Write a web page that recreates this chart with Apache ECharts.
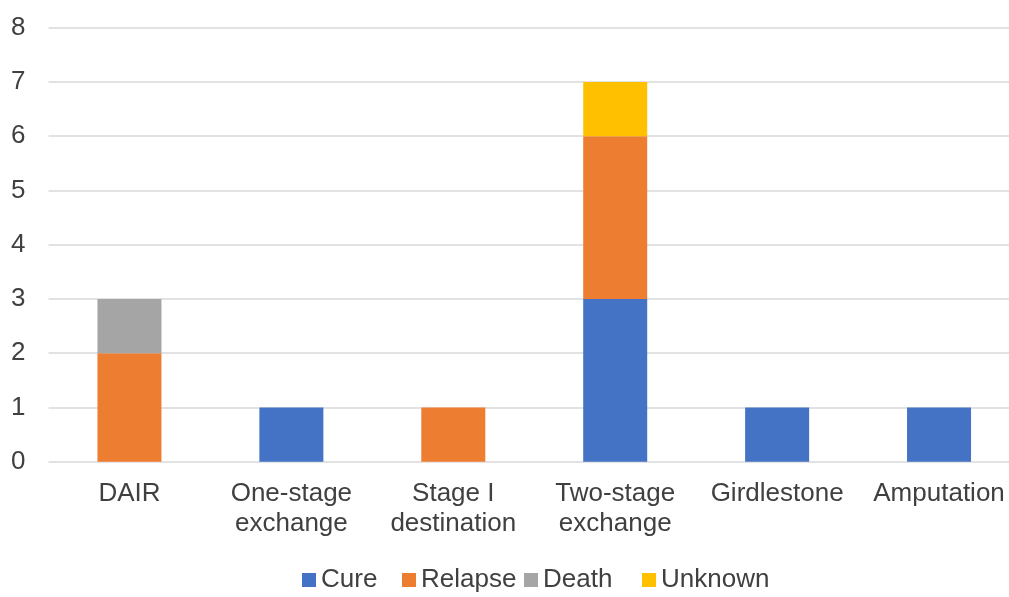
<!DOCTYPE html>
<html>
<head>
<meta charset="utf-8">
<script src="https://cdn.jsdelivr.net/npm/echarts@6/dist/echarts.min.js"></script>
<style>html,body{margin:0;padding:0;background:#fff;overflow:hidden}#c{width:1020px;height:597px}</style>
</head>
<body>
<div id="c"></div>
<script>
var categories = ['DAIR', 'One-stage\nexchange', 'Stage I\ndestination', 'Two-stage\nexchange', 'Girdlestone', 'Amputation'];
var seriesNames = ['Cure', 'Relapse', 'Death', 'Unknown'];
var cure = [0, 1, 0, 3, 1, 1];
var relapse = [2, 0, 1, 3, 0, 0];
var death = [1, 0, 0, 0, 0, 0];
var unknown = [0, 0, 0, 1, 0, 0];
var yTicks = [0, 1, 2, 3, 4, 5, 6, 7, 8];

var font = 'Liberation Sans, Arial, Helvetica, sans-serif';
var chart = echarts.init(document.getElementById('c'), null, {renderer: 'canvas'});
function mk(name, data, color) {
  return {
    name: name, type: 'bar', stack: 'total', data: data, barWidth: 64,
    itemStyle: {color: color}, emphasis: {disabled: true}
  };
}
var legendLefts = [297, 397, 519, 637];
var legends = seriesNames.map(function (n, i) {
  return {
    top: 562, left: legendLefts[i], itemWidth: 14, itemHeight: 14, icon: 'rect',
    textStyle: {fontFamily: font, fontSize: 26, color: '#404040'},
    data: [n], selectedMode: false
  };
});
chart.setOption({
  animation: false,
  grid: {left: 48.5, right: 0, top: 27.7, bottom: 135.3, containLabel: false},
  legend: legends,
  xAxis: {
    type: 'category', data: categories,
    axisLine: {show: false}, axisTick: {show: false},
    axisLabel: {fontFamily: font, fontSize: 26, color: '#404040', margin: 17, lineHeight: 30, interval: 0}
  },
  yAxis: {
    type: 'value', min: yTicks[0], max: yTicks[yTicks.length - 1], interval: 1,
    axisLine: {show: false}, axisTick: {show: false},
    axisLabel: {fontFamily: font, fontSize: 26, color: '#404040', margin: 23, padding: [0, 0, 4, 0]},
    splitLine: {lineStyle: {color: '#d9d9d9', width: 1.5}}
  },
  series: [
    mk('Cure', cure, '#4472C4'),
    mk('Relapse', relapse, '#ED7D31'),
    mk('Death', death, '#A5A5A5'),
    mk('Unknown', unknown, '#FFC000')
  ]
});
</script>
</body>
</html>
